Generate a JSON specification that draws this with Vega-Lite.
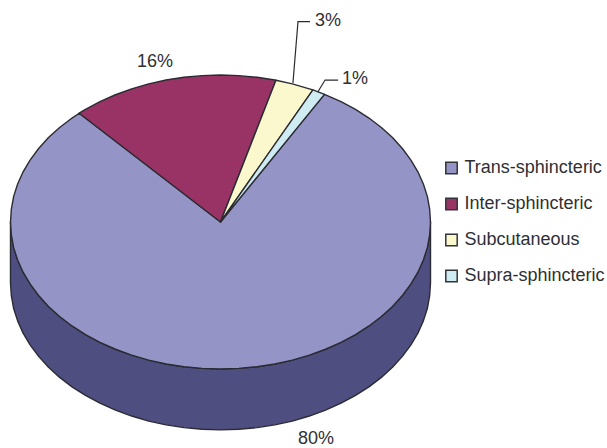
{
  "$schema": "https://vega.github.io/schema/vega-lite/v6.json",
  "width": 607,
  "height": 448,
  "padding": 0,
  "autosize": "none",
  "background": "white",
  "projection": {"type": "identity", "reflectY": true, "scale": 210, "translate": [220.5, 222]},
  "config": {"view": {"stroke": null}, "text": {"font": "Liberation Sans"}},
  "layer": [
    {
      "data": {"values": [
        {"part": "side wall", "outline": {"type": "Polygon", "coordinates": [[
          [-1,0],[-0.996,-0.061],[-0.985,-0.122],[-0.966,-0.181],[-0.94,-0.239],[-0.906,-0.296],[-0.866,-0.35],[-0.819,-0.402],[-0.766,-0.45],[-0.707,-0.495],[-0.643,-0.536],[-0.574,-0.573],[-0.5,-0.606],[-0.423,-0.634],[-0.342,-0.658],[-0.259,-0.676],[-0.174,-0.689],[-0.087,-0.697],[0,-0.7],
          [0.087,-0.697],[0.174,-0.689],[0.259,-0.676],[0.342,-0.658],[0.423,-0.634],[0.5,-0.606],[0.574,-0.573],[0.643,-0.536],[0.707,-0.495],[0.766,-0.45],[0.819,-0.402],[0.866,-0.35],[0.906,-0.296],[0.94,-0.239],[0.966,-0.181],[0.985,-0.122],[0.996,-0.061],[1,0],
          [1,-0.29],[0.996,-0.351],[0.985,-0.412],[0.966,-0.471],[0.94,-0.529],[0.906,-0.586],[0.866,-0.64],[0.819,-0.692],[0.766,-0.74],[0.707,-0.785],[0.643,-0.826],[0.574,-0.863],[0.5,-0.896],[0.423,-0.924],[0.342,-0.948],[0.259,-0.966],[0.174,-0.979],[0.087,-0.987],[0,-0.99],
          [-0.087,-0.987],[-0.174,-0.979],[-0.259,-0.966],[-0.342,-0.948],[-0.423,-0.924],[-0.5,-0.896],[-0.574,-0.863],[-0.643,-0.826],[-0.707,-0.785],[-0.766,-0.74],[-0.819,-0.692],[-0.866,-0.64],[-0.906,-0.586],[-0.94,-0.529],[-0.966,-0.471],[-0.985,-0.412],[-0.996,-0.351],[-1,-0.29],[-1,0]
        ]]}}
      ]},
      "mark": {"type": "geoshape", "fill": "#4E4E80", "stroke": "#2b2b33", "strokeWidth": 1.4, "strokeJoin": "round"},
      "encoding": {"shape": {"field": "outline", "type": "geojson"}}
    },
    {
      "data": {"values": [
        {"slice": "Trans-sphincteric", "share": 80, "outline": {"type": "Polygon", "coordinates": [[
          [0,0],[0.495,0.608],[0.574,0.573],[0.643,0.536],[0.707,0.495],[0.766,0.45],[0.819,0.402],[0.866,0.35],[0.906,0.296],[0.94,0.239],[0.966,0.181],[0.985,0.122],[0.996,0.061],[1,0],
          [0.996,-0.061],[0.985,-0.122],[0.966,-0.181],[0.94,-0.239],[0.906,-0.296],[0.866,-0.35],[0.819,-0.402],[0.766,-0.45],[0.707,-0.495],[0.643,-0.536],[0.574,-0.573],[0.5,-0.606],[0.423,-0.634],[0.342,-0.658],[0.259,-0.676],[0.174,-0.689],[0.087,-0.697],[0,-0.7],
          [-0.087,-0.697],[-0.174,-0.689],[-0.259,-0.676],[-0.342,-0.658],[-0.423,-0.634],[-0.5,-0.606],[-0.574,-0.573],[-0.643,-0.536],[-0.707,-0.495],[-0.766,-0.45],[-0.819,-0.402],[-0.866,-0.35],[-0.906,-0.296],[-0.94,-0.239],[-0.966,-0.181],[-0.985,-0.122],[-0.996,-0.061],[-1,0],
          [-0.996,0.061],[-0.985,0.122],[-0.966,0.181],[-0.94,0.239],[-0.906,0.296],[-0.866,0.35],[-0.819,0.402],[-0.766,0.45],[-0.707,0.495],[-0.673,0.518],[0,0]
        ]]}},
        {"slice": "Inter-sphincteric", "share": 16, "outline": {"type": "Polygon", "coordinates": [[
          [0,0],[-0.673,0.518],[-0.643,0.536],[-0.574,0.573],[-0.5,0.606],[-0.423,0.634],[-0.342,0.658],[-0.259,0.676],[-0.174,0.689],[-0.087,0.697],[0,0.7],[0.087,0.697],[0.174,0.689],[0.259,0.676],[0.264,0.675],[0,0]
        ]]}},
        {"slice": "Subcutaneous", "share": 3, "outline": {"type": "Polygon", "coordinates": [[
          [0,0],[0.264,0.675],[0.342,0.658],[0.423,0.634],[0.44,0.629],[0,0]
        ]]}},
        {"slice": "Supra-sphincteric", "share": 1, "outline": {"type": "Polygon", "coordinates": [[
          [0,0],[0.44,0.629],[0.495,0.608],[0,0]
        ]]}}
      ]},
      "mark": {"type": "geoshape", "stroke": "#2b2b33", "strokeWidth": 1.4, "strokeJoin": "round"},
      "encoding": {
        "shape": {"field": "outline", "type": "geojson"},
        "color": {
          "field": "slice",
          "type": "nominal",
          "sort": null,
          "scale": {
            "domain": ["Trans-sphincteric", "Inter-sphincteric", "Subcutaneous", "Supra-sphincteric"],
            "range": ["#9494C6", "#993366", "#FBF8CE", "#D0ECF3"]
          },
          "legend": {
            "title": null,
            "orient": "none",
            "legendX": 442.5,
            "legendY": 159,
            "symbolType": "square",
            "symbolSize": 130,
            "symbolStrokeColor": "#33333a",
            "symbolStrokeWidth": 1.5,
            "symbolOpacity": 1,
            "labelFont": "Liberation Sans",
            "labelFontSize": 18,
            "labelColor": "#2f2f33",
            "labelOffset": 4,
            "labelLimit": 200,
            "rowPadding": 18
          }
        }
      }
    },
    {
      "data": {"values": [
        {"callout": "3%", "outline": {"type": "LineString", "coordinates": [[0.345,0.662],[0.369,0.954],[0.426,0.954]]}},
        {"callout": "1%", "outline": {"type": "LineString", "coordinates": [[0.464,0.62],[0.498,0.676],[0.56,0.676]]}}
      ]},
      "mark": {"type": "geoshape", "filled": false, "stroke": "#2b2b33", "strokeWidth": 1.2},
      "encoding": {"shape": {"field": "outline", "type": "geojson"}}
    },
    {
      "data": {"values": [
        {"label": "80%", "lon": 0.455, "lat": -1.033},
        {"label": "16%", "lon": -0.312, "lat": 0.762},
        {"label": "3%", "lon": 0.512, "lat": 0.957},
        {"label": "1%", "lon": 0.64, "lat": 0.681}
      ]},
      "mark": {"type": "text", "fontSize": 18, "color": "#2f2f33", "align": "center", "baseline": "middle"},
      "encoding": {
        "longitude": {"field": "lon", "type": "quantitative"},
        "latitude": {"field": "lat", "type": "quantitative"},
        "text": {"field": "label", "type": "nominal"}
      }
    }
  ]
}
